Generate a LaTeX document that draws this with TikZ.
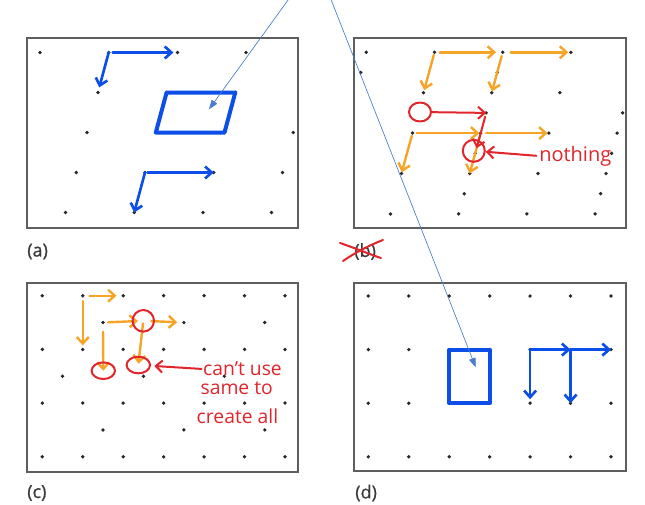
\documentclass[tikz,border=0pt]{standalone}
\usepackage{fontspec}
\setmainfont{Open Sans}
\newfontfamily\labelfont[FakeBold=0.7]{Open Sans}
\usepackage{xcolor}
\usepackage{tikz}
\usetikzlibrary{arrows.meta}

\definecolor{penblue}{HTML}{0B4FE8}
\definecolor{penorange}{HTML}{F6A428}
\definecolor{penred}{HTML}{E1252B}
\definecolor{linkblue}{HTML}{4A7BCC}
\definecolor{framegray}{HTML}{5E5E5E}
\definecolor{labelgray}{HTML}{3A3A3A}

\tikzset{
  panelframe/.style={draw=framegray, line width=1.4pt},
  latdot/.style={fill=black!85},
  blue pen/.style={draw=penblue, line width=2pt, line cap=round, line join=round},
  orange pen/.style={draw=penorange, line width=1.8pt, line cap=round, line join=round},
  red pen/.style={draw=penred, line width=1.5pt, line cap=round, line join=round},
  barb/.style={-{Straight Barb[length=5pt,width=9pt]}},
  link/.style={draw=linkblue, line width=0.5pt, -{Triangle[length=7pt,width=5pt]}},
  panel label/.style={text=labelgray, anchor=west, inner sep=0pt, font=\labelfont\fontsize{13.5}{15}\selectfont},
  scribble/.style={text=penred, inner sep=0pt, font=\fontsize{14.5}{16}\selectfont},
}

\begin{document}
\begin{tikzpicture}[x=0.75pt, y=-0.75pt]
\useasboundingbox (0,0) rectangle (645,504);
\clip (0,0) rectangle (645,504);

% panel frames
\draw[panelframe] (27,38) rectangle (298,228);
\draw[panelframe] (354,38) rectangle (626,228);
\draw[panelframe] (27,283) rectangle (298,472);
\draw[panelframe] (354,283) rectangle (626,471);

% lattice (a)
\foreach \j in {0,...,4}{
  \foreach \i in {0,...,4}{
    \pgfmathsetmacro{\px}{40-10.8*\j+68.7*\i}
    \coordinate (a-\i-\j) at (\px,52.5+40*\j);
    \ifdim\px pt>31pt\ifdim\px pt<295pt
      \fill[latdot] (a-\i-\j) circle (1.4pt);
    \fi\fi
  }
}

% lattice (b)
\foreach \j in {0,...,4}{
  \foreach \i in {0,...,4}{
    \pgfmathsetmacro{\px}{366.3-11*\j+68.2*\i}
    \coordinate (b-\i-\j) at (\px,52.3+40.4*\j);
    \ifdim\px pt>357pt\ifdim\px pt<625pt
      \fill[latdot] (b-\i-\j) circle (1.4pt);
    \fi\fi
  }
}
\foreach \j in {0,...,3}{
  \foreach \k in {0,...,2}{
    \pgfmathsetmacro{\px}{360.8-11*\j+136.4*\k}
    \coordinate (bh-\k-\j) at (\px,72.5+40.4*\j);
    \ifdim\px pt>357pt\ifdim\px pt<625pt
      \fill[latdot] (bh-\k-\j) circle (1.4pt);
    \fi\fi
  }
}

% lattice (c)
\foreach \j in {0,...,3}{
  \foreach \i in {0,...,6}{
    \coordinate (c-\i-\j) at (42.3+40.45*\i,295.7+53.7*\j);
    \fill[latdot] (c-\i-\j) circle (1.4pt);
  }
}
\foreach \j in {0,...,2}{
  \foreach \k in {0,...,3}{
    \pgfmathsetmacro{\px}{42.3+40.45*(1.5-mod(\j,2)+2*\k)}
    \coordinate (ch-\k-\j) at (\px,322.5+53.7*\j);
    \ifdim\px pt<295pt
      \fill[latdot] (ch-\k-\j) circle (1.4pt);
    \fi
  }
}

% lattice (d)
\foreach \j in {0,...,3}{
  \foreach \i in {0,...,6}{
    \coordinate (d-\i-\j) at (368.3+40.45*\i,296+53.6*\j);
    \fill[latdot] (d-\i-\j) circle (1.4pt);
  }
}

% (a) primitive cell and vectors
\draw[blue pen, line width=3pt] (a-2-2) -- (a-3-2) -- (a-3-1) -- (a-2-1) -- cycle;
\draw[blue pen, barb, shorten <=3pt, shorten >=3pt] (a-1-0) -- (a-2-0);
\draw[blue pen, barb, shorten >=4pt] (a-1-0) -- (a-1-1);
\draw[blue pen, barb, shorten <=2pt] (a-2-3) -- (a-3-3);
\draw[blue pen, barb] (a-2-3) -- (a-2-4);

% (b) vectors
\draw[orange pen, barb, shorten <=4pt, shorten >=5pt] (b-1-0) -- (b-2-0);
\draw[orange pen, barb, shorten <=6pt, shorten >=2pt] (b-2-0) -- (b-3-0);
\draw[orange pen, barb, shorten <=2pt, shorten >=2pt] (b-1-0) -- (b-1-1);
\draw[orange pen, barb, shorten <=3pt, shorten >=1pt] (b-2-0) -- (b-2-1);
\draw[orange pen, barb, shorten <=3pt, shorten >=1pt] (b-1-2) -- (b-2-2);
\draw[orange pen, barb, shorten <=4pt, shorten >=1pt] (b-2-2) -- (b-3-2);
\draw[orange pen, barb, shorten <=2pt, shorten >=1pt] (b-1-2) -- (b-1-3);
\draw[orange pen, barb, shorten <=3pt, shorten >=0pt] (b-2-2) -- (b-2-3);

\coordinate (holeb) at (420,112);
\coordinate (nothingc) at (473.8,150.8);
\draw[red pen] (holeb) ellipse (11 and 9.5);
\draw[red pen] (nothingc) ellipse (11 and 11);
\draw[red pen, barb, shorten <=8.5pt] (holeb) -- (bh-1-1);
\draw[red pen, barb, shorten <=3pt, shorten >=4pt] (bh-1-1) -- (bh-1-2);
\node[scribble, anchor=west, font=\fontsize{15}{17}\selectfont] (nothing) at (539,156) {nothing};
\draw[red pen, barb, shorten <=2pt, shorten >=9pt] (nothing.west) -- (nothingc);

% (c) vectors
\coordinate (ctop) at (143.3,320.8);
\coordinate (cleft) at (103.3,370.7);
\coordinate (cright) at (138.3,365);
\draw[orange pen, barb, shorten <=5pt, shorten >=5pt] (c-1-0) -- (c-2-0);
\draw[orange pen, barb, shorten <=4pt, shorten >=3pt] (c-1-0) -- (c-1-1);
\draw[orange pen, barb, shorten <=4pt, shorten >=4pt] (ch-0-0) -- (ctop);
\draw[orange pen, barb, shorten <=6pt, shorten >=5pt] (ctop) -- (ch-1-0);
\draw[orange pen, barb, shorten <=7pt] (ch-0-0) -- (cleft);
\draw[orange pen, barb, shorten <=2pt, shorten >=1pt] (ctop) -- (cright);
\draw[red pen] (ctop) ellipse (10.7 and 10.8);
\draw[red pen] (cleft) ellipse (11.7 and 8.3);
\draw[red pen] (cright) ellipse (11.7 and 8.3);
\node[scribble] (cant) at (242.5,369) {can't use};
\node[scribble] (same) at (236.7,388.5) {same to};
\node[scribble] (create) at (237.5,416.5) {create all};
\draw[red pen, barb, shorten <=1pt, shorten >=12pt] (cant.west) -- (cright);

% (d) conventional cell and vectors
\draw[blue pen, line width=3pt] (d-2-1) rectangle (d-3-2);
\draw[blue pen, barb] (d-4-1) -- (d-5-1);
\draw[blue pen, barb] (d-5-1) -- (d-6-1);
\draw[blue pen, barb, shorten >=3pt] (d-4-1) -- (d-4-2);
\draw[blue pen, barb] (d-5-1) -- (d-5-2);

% panel labels
\node[panel label] (lab-a) at (27,251.5) {(a)};
\node[panel label] (lab-b) at (354,251.5) {(b)};
\node[panel label] (lab-c) at (27,493) {(c)};
\node[panel label] (lab-d) at (355,493) {(d)};
\draw[red pen] (340,243) .. controls (355,248) and (366,253) .. (381,258);
\draw[red pen] (343,261) .. controls (356,252) and (370,245) .. (383,240);

% callout lines
\coordinate (src) at (316,-38.6);
\coordinate (tipa) at (209,109.3);
\coordinate (tipd) at (475.7,367.3);
\draw[link] (src) -- (tipa);
\draw[link] (src) -- (tipd);

\end{tikzpicture}
\end{document}
